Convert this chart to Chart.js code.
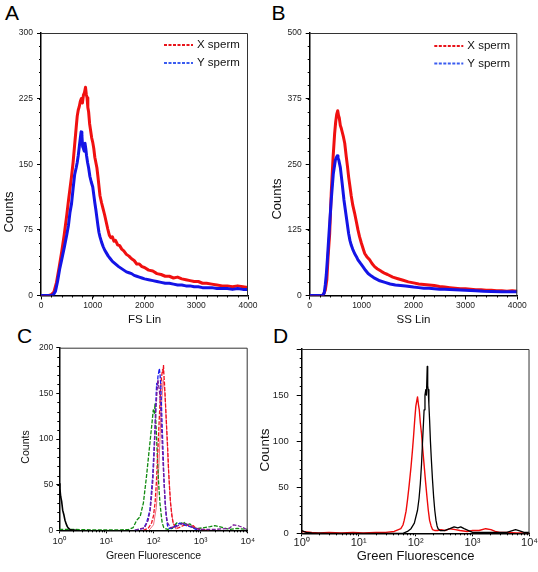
<!DOCTYPE html>
<html><head><meta charset="utf-8">
<script src="https://cdn.jsdelivr.net/npm/chart.js@4.4.1/dist/chart.umd.min.js"></script>
<style>
html,body{margin:0;padding:0;background:#fff;}
body{width:538px;height:572px;position:relative;overflow:hidden;font-family:"Liberation Sans",Arial,sans-serif;}
canvas{position:absolute;}
.lbl{position:absolute;font-size:21px;line-height:1;color:#000;}
</style></head><body>
<div class="lbl" style="left:5px;top:2px">A</div>
<div class="lbl" style="left:271.5px;top:2px">B</div>
<div class="lbl" style="left:17px;top:325px">C</div>
<div class="lbl" style="left:273px;top:325px">D</div>
<canvas id="cA" width="269" height="332" style="left:0;top:0"></canvas>
<canvas id="cB" width="270" height="332" style="left:268px;top:0"></canvas>
<canvas id="cC" width="268" height="247" style="left:0;top:325px"></canvas>
<canvas id="cD" width="283" height="247" style="left:255px;top:325px"></canvas>
<script>
// ---------- Panel A: FS Lin ----------
const fsXsperm_x = [0,150,200,250,300,350,400,450,500,530,560,590,620,650,680,700,720,740,760,780,800,820,840,860,875,890,905,920,940,960,980,1000,1020,1040,1060,1080,1100,1120,1140,1170,1200,1230,1260,1290,1320,1350,1380,1410,1440,1480,1520,1560,1600,1650,1700,1750,1800,1850,1900,1950,2000,2080,2160,2240,2320,2400,2480,2560,2640,2720,2800,2880,2960,3040,3120,3200,3300,3400,3500,3600,3700,3800,3900,4000];
const fsXsperm_y = [0,0,1,4,15,32,50,70,93,108,122,136,152,172,192,205,212,216,222,225,220,229,232,238,230,226,215,210,196,188,180,175,168,158,152,146,136,125,114,106,99,92,84,76,69,66,67,62,63,58,57,53,51,47,45,42,40,36,36,33,32,29,28,25,24,22,22,20,21,19,18,17,16,16,14,14,13,12,11,11,10,11,10,9];
const fsYsperm_x = [0,200,240,280,320,360,400,450,500,530,560,590,620,650,680,700,720,740,760,775,790,805,820,835,850,865,880,900,920,945,970,1000,1020,1040,1060,1080,1100,1120,1140,1170,1200,1230,1260,1300,1340,1380,1420,1460,1500,1550,1600,1650,1700,1750,1800,1850,1900,1950,2000,2080,2160,2240,2320,2400,2480,2560,2640,2720,2800,2880,2960,3040,3120,3200,3300,3400,3500,3600,3700,3800,3900,4000];
const fsYsperm_y = [0,0,1,5,16,30,41,55,70,80,95,105,122,138,146,152,160,170,180,187,183,170,168,165,174,168,160,152,146,136,130,124,115,106,98,89,80,72,67,61,56,52,49,45,42,39,37,35,33,31,29,27,26,25,23,22,21,20,19,18,17,16,15,14,14,13,12,12,11,11,10,10,9,9,9,8,8,8,7,8,7,7];
const linTicksA = [0,1000,2000,3000,4000];
const yTicksA = [0,75,150,225,300];

// ---------- Panel B: SS Lin ----------
const ssXsperm_x = [0,240,270,300,330,355,385,415,450,480,500,520,540,555,570,590,610,630,650,675,705,730,750,775,800,830,865,900,930,960,995,1030,1060,1100,1155,1200,1250,1300,1380,1450,1500,1600,1700,1800,1900,2000,2100,2200,2300,2400,2500,2600,2700,2800,2900,3000,3100,3200,3300,3400,3500,3600,3700,3800,3900,4000];
const ssXsperm_y = [0,0,3,10,30,75,118,195,262,308,330,345,352,343,338,324,318,310,302,290,264,244,226,208,190,172,157,140,125,112,100,89,80,74,68,61,55,51,46,42,40,35,32,29,26,24,22,21,20,19,17,16,15,14,13,13,12,11,11,10,10,9,9,8,9,8];
const ssYsperm_x = [0,250,280,300,320,340,370,415,455,495,515,530,545,560,590,625,660,705,750,775,800,830,865,900,930,980,1025,1075,1125,1190,1250,1350,1450,1550,1650,1750,1850,2000,2100,2200,2300,2400,2500,2600,2800,3000,3200,3350,3500,3700,3850,4000];
const ssYsperm_y = [0,0,5,20,40,68,115,182,232,258,263,266,262,258,244,214,182,150,118,105,96,88,80,74,68,61,55,48,42,37,33,28,25,22,20,19,18,16,15,14,14,13,12,12,11,10,9,8,7.5,7,7,7];
const yTicksB = [0,125,250,375,500];

// ---------- Panel C: Green Fluorescence (several samples) ----------
const cBlack_x = [1,1.03,1.07,1.12,1.18,1.25,1.32,1.4,1.48,1.58,1.68,1.8,2,2.3];
const cBlack_y = [51,46,37,32,22,17,11,7,4,2,1,0.5,0.3,0];
const cGreen_x = [1,2,5,10,20,30,37,44,52,61,71,81,91,99,104,108,112,116,121,126,131,137,145,153,165,175,200,250,310,370,430,510,595,700,900,1200,1600,2000,2500,3000,4000,6000,10000];
const cGreen_y = [1,1,0.5,0.5,0.5,1,3,11,15,30,59,88,113,132,128,139,120,103,80,59,45,30,18,8,3,2,1,2,8,7,9,6,7,3,2,3,4,5,4,3,1,2,1];
const cBlue_x = [40,61,71,84,96,108,114,117,121,124,128,133,138,142,147,153,160,166,174,181,190,200,220,260,320,364,420,500,600,800,1000];
const cBlue_y = [0,2,8,22,59,113,150,161,158,168,172,177,170,161,140,113,85,59,38,22,12,4,2,3,6,8,7,5,4,1,0];
const cPurple_x = [40,65,77,85,91,97,102,107,112,118,124,129,133,140,146,153,161,169,177,188,200,230,300,364,450,550,700,1000,2000,4000,5000,6300,8000,10000];
const cPurple_y = [0,3,11,22,37,55,77,105,132,150,165,158,154,140,121,95,70,48,30,15,8,3,4,6,8,6,3,1,1,2,6,5,3,0];
const cRed_x = [60,77,91,100,108,115,121,127,133,139,144,150,156,160,163,167,171,180,190,200,209,220,230,245,262,300,350,420,500,600,700,800,1000,1500];
const cRed_y = [0,2,8,16,30,52,77,100,124,145,161,170,176,173,181,168,161,138,113,90,66,45,30,16,8,2,3,5,6,4,5,2,1,0];
const cPink_x = [80,100,115,130,145,160,175,190,210,230,260,300];
const cPink_y = [0,6,25,70,130,165,150,110,62,30,8,1];

// ---------- Panel D: Green Fluorescence (two samples) ----------
const dRed_x = [1,1.5,2,3,5,8,12,20,30,42,50,55,60,63,68,72,77,83,88,92,97,101,105,108,112,116,121,127,134,142,150,158,167,176,187,198,220,243,280,330,400,500,600,800,1000,1300,1700,2100,2500,3000,4000,6000,10000];
const dRed_y = [2,1,0.5,1,0.5,1,0.5,1,1,2,4,5,9,14,24,36,52,72,90,105,125,138,144,148,140,134,120,108,90,72,55,40,25,14,8,4,3,3,4,3,5,4,3,2,3,3,5,4,2,1,1,0.5,0.5];
const dBlack_x = [1,1.2,1.5,3,10,30,60,72,83,95,108,115,121,127,132,137,141,146,151,155,160,163,166,171,176,182,189,198,207,217,228,238,248,270,320,400,474,550,620,711,850,1000,1500,2500,4000,5000,5700,6500,8000,10000];
const dBlack_y = [3,1,0.5,0,0,0,0,2,5,11,25,38,54,75,98,118,134,150,156,150,181,160,156,140,123,100,80,58,40,25,14,8,5,3,3,5,7,6,7,5,3,1,1,1,1,3,4,3,1,1];

const logTicks = [1,10,100,1000,10000];
const logTickLabels = ['10\u2070','10\u00B9','10\u00B2','10\u00B3','10\u2074'];
const yTicksCD = [0,50,100,150,200];

const FONT = '"Liberation Sans", Arial, sans-serif';
Chart.defaults.font.family = FONT;

const framePlugin = {
  id: 'frame',
  afterDraw(chart) {
    const {ctx, chartArea: a} = chart;
    ctx.save();
    ctx.strokeStyle = '#333'; ctx.lineWidth = 1;
    ctx.beginPath();
    ctx.moveTo(a.left, a.top + 0.5); ctx.lineTo(a.right - 0.5, a.top + 0.5); ctx.lineTo(a.right - 0.5, a.bottom);
    ctx.stroke();
    ctx.restore();
  }
};
const minorTicks = {
  id: 'minorTicks',
  afterDraw(chart, args, o) {
    if (!o || !o.display) return;
    const ctx = chart.ctx, xs = chart.scales.x, ys = chart.scales.y;
    ctx.save(); ctx.strokeStyle = '#000'; ctx.lineWidth = 1;
    ctx.beginPath();
    if (o.xLog) {
      for (let d = 1; d < 10000; d *= 10) for (let m = 2; m <= 9; m++) {
        const px = Math.round(xs.getPixelForValue(m * d)) + 0.5;
        ctx.moveTo(px, xs.top); ctx.lineTo(px, xs.top + o.len);
      }
    } else {
      for (let v = xs.min + o.xStep; v < xs.max; v += o.xStep) {
        const px = Math.round(xs.getPixelForValue(v)) + 0.5;
        ctx.moveTo(px, xs.top); ctx.lineTo(px, xs.top + o.len);
      }
    }
    for (let v = ys.min + o.yStep; v < ys.max; v += o.yStep) {
      const py = Math.round(ys.getPixelForValue(v)) + 0.5;
      ctx.moveTo(ys.right - o.len, py); ctx.lineTo(ys.right, py);
    }
    ctx.stroke(); ctx.restore();
  }
};
const yTitle = {
  id: 'yTitle',
  afterDraw(chart, args, o) {
    if (!o || !o.text) return;
    const ctx = chart.ctx;
    ctx.save(); ctx.translate(o.x, o.y); ctx.rotate(-Math.PI / 2);
    ctx.font = o.size + 'px ' + FONT; ctx.fillStyle = '#111';
    ctx.textAlign = 'center'; ctx.textBaseline = 'middle';
    ctx.fillText(o.text, 0, 0); ctx.restore();
  }
};
const dashLegend = {
  id: 'dashLegend',
  afterDraw(chart, args, o) {
    if (!o || !o.display) return;
    const ctx = chart.ctx, a = chart.chartArea;
    ctx.save();
    ctx.font = o.size + 'px ' + FONT; ctx.textBaseline = 'middle'; ctx.textAlign = 'left';
    chart.data.datasets.forEach((ds, i) => {
      const y = a.top + o.top + i * o.gap, x0 = a.right - o.right;
      ctx.strokeStyle = o.colors[i]; ctx.lineWidth = 2; ctx.setLineDash([3, 1.5]);
      ctx.beginPath(); ctx.moveTo(x0, y); ctx.lineTo(x0 + o.len, y); ctx.stroke();
      ctx.setLineDash([]); ctx.fillStyle = '#111';
      ctx.fillText(ds.label, x0 + o.len + 4, y);
    });
    ctx.restore();
  }
};
Chart.register(framePlugin, minorTicks, yTitle, dashLegend);

function panel(id, c) {
  const cv = document.getElementById(id);
  const W = cv.width, H = cv.height, a = c.area;
  return new Chart(cv, {
    type: 'line',
    data: { datasets: c.datasets.map(d => ({
      label: d.label, data: d.x.map((v, i) => ({x: v, y: d.y[i]})),
      borderColor: d.color, borderWidth: d.width, borderDash: d.dash || [],
      borderJoinStyle: 'round',
      pointRadius: 0, tension: 0, fill: false, order: d.order || 0
    })) },
    options: {
      responsive: false, animation: false, events: [],
      layout: { padding: { left: 0, top: a.t, right: W - a.r, bottom: 0 } },
      plugins: {
        legend: { display: false }, tooltip: { enabled: false },
        dashLegend: c.legend || { display: false },
        yTitle: c.yTitle, minorTicks: c.minor
      },
      scales: {
        x: {
          type: c.xLog ? 'logarithmic' : 'linear', min: c.xTicks[0], max: c.xTicks[c.xTicks.length - 1],
          afterFit: s => { s.height = H - a.b; },
          afterBuildTicks: s => { s.ticks = c.xTicks.map(v => ({value: v})); },
          ticks: { autoSkip: false, maxRotation: 0, minRotation: 0, padding: c.xPad, color: '#222',
                   font: { size: c.xTickSize || c.tickSize }, callback: (v, i) => c.xLabels[i] },
          grid: { drawOnChartArea: false, tickLength: c.tickLen, tickColor: '#000', tickWidth: 1 },
          border: { color: '#000', width: 1.5 },
          title: { display: true, text: c.xTitle, color: '#111', font: { size: c.xTitleSize },
                   padding: { top: 0, bottom: c.xTitlePad } }
        },
        y: {
          min: c.yTicks[0], max: c.yTicks[c.yTicks.length - 1],
          afterFit: s => { s.width = a.l; },
          afterBuildTicks: s => { s.ticks = c.yTicks.map(v => ({value: v})); },
          ticks: { autoSkip: false, padding: c.yPad, color: '#222', font: { size: c.tickSize },
                   callback: (v, i) => c.yLabels[i] },
          grid: { drawOnChartArea: false, tickLength: c.yTickLen || c.tickLen, tickColor: '#000', tickWidth: 1 },
          border: { color: '#000', width: 1.5 }
        }
      }
    }
  });
}

const RED = '#f01010', BLUE = '#1414e6';

panel('cA', {
  area: { l: 41, t: 33, r: 248, b: 295.5 },
  datasets: [
    { label: 'X sperm', x: fsXsperm_x, y: fsXsperm_y, color: RED, width: 3, order: 2 },
    { label: 'Y sperm', x: fsYsperm_x, y: fsYsperm_y, color: BLUE, width: 3, order: 1 }
  ],
  legend: { display: true, top: 12, gap: 18, right: 84, len: 29, size: 11.5, colors: ['#e8141b', '#3a5cf0'] },
  xTicks: linTicksA, xLabels: linTicksA.map(String), yTicks: yTicksA, yLabels: yTicksA.map(String),
  tickSize: 8.5, tickLen: 4, xPad: 1, yPad: 4,
  xTitle: 'FS Lin', xTitleSize: 11.5, xTitlePad: 5,
  yTitle: { text: 'Counts', x: 9, y: 212, size: 13 },
  minor: { display: true, xStep: 200, yStep: 15, len: 2 }
});

panel('cB', {
  area: { l: 41.7, t: 33, r: 249.3, b: 295.5 },
  datasets: [
    { label: 'X sperm', x: ssXsperm_x, y: ssXsperm_y, color: RED, width: 3, order: 2 },
    { label: 'Y sperm', x: ssYsperm_x, y: ssYsperm_y, color: BLUE, width: 3, order: 1 }
  ],
  legend: { display: true, top: 13, gap: 17.5, right: 83, len: 29, size: 11.5, colors: ['#e8141b', '#3a5cf0'] },
  xTicks: linTicksA, xLabels: linTicksA.map(String), yTicks: yTicksB, yLabels: yTicksB.map(String),
  tickSize: 8.5, tickLen: 4, xPad: 1, yPad: 4,
  xTitle: 'SS Lin', xTitleSize: 11.5, xTitlePad: 5,
  yTitle: { text: 'Counts', x: 9, y: 199, size: 13 },
  minor: { display: true, xStep: 200, yStep: 25, len: 2 }
});

panel('cC', {
  area: { l: 59.3, t: 22.7, r: 247.7, b: 205.3 },
  xLog: true,
  datasets: [
    { label: 'control', x: cBlack_x, y: cBlack_y, color: '#000', width: 1.6, order: 1 },
    { label: 'sample 1', x: cGreen_x, y: cGreen_y, color: '#108a10', width: 1.3, dash: [4, 1.5], order: 5 },
    { label: 'sample 2', x: cPink_x, y: cPink_y, color: '#f07080', width: 1, order: 6 },
    { label: 'sample 3', x: cRed_x, y: cRed_y, color: '#ee1020', width: 1.3, dash: [4, 1.5], order: 4 },
    { label: 'sample 4', x: cBlue_x, y: cBlue_y, color: '#1a1aee', width: 1.3, dash: [4, 1.5], order: 3 },
    { label: 'sample 5', x: cPurple_x, y: cPurple_y, color: '#7a1a9a', width: 1.3, dash: [4, 1.5], order: 2 }
  ],
  xTicks: logTicks, xLabels: logTickLabels, yTicks: yTicksCD, yLabels: yTicksCD.map(String),
  tickSize: 8.5, xTickSize: 9.5, tickLen: 3, xPad: 2, yPad: 3,
  xTitle: 'Green Fluorescence', xTitleSize: 10.5, xTitlePad: 9.5,
  yTitle: { text: 'Counts', x: 26.5, y: 122, size: 10.5 },
  minor: { display: true, xLog: true, yStep: 10, len: 2 }
});

panel('cD', {
  area: { l: 46.7, t: 24, r: 275.3, b: 208.3 },
  xLog: true,
  datasets: [
    { label: 'sample A', x: dRed_x, y: dRed_y, color: '#ee0a0a', width: 1.4, order: 2 },
    { label: 'sample B', x: dBlack_x, y: dBlack_y, color: '#000', width: 1.3, order: 1 }
  ],
  xTicks: logTicks, xLabels: logTickLabels, yTicks: yTicksCD, yLabels: ['0', '50', '100', '150', ''],
  tickSize: 9.5, xTickSize: 11, tickLen: 3, yTickLen: 5, xPad: 0, yPad: 8,
  xTitle: 'Green Fluorescence', xTitleSize: 13, xTitlePad: 8,
  yTitle: { text: 'Counts', x: 10, y: 125, size: 13.5 },
  minor: { display: true, xLog: true, yStep: 10, len: 2 }
});
</script>
</body></html>
